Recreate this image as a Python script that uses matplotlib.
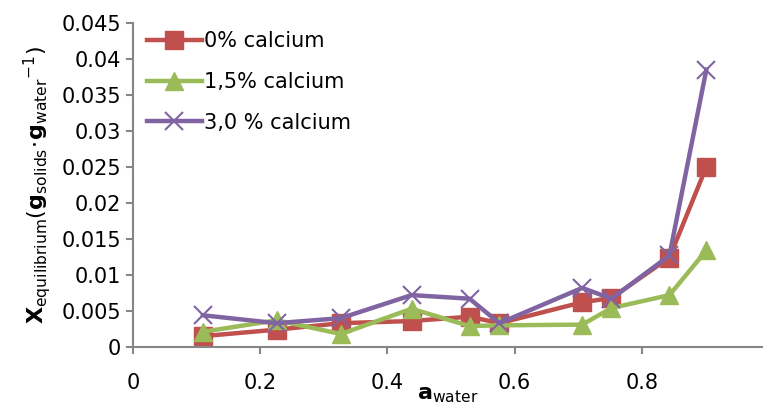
import matplotlib
matplotlib.use("Agg")
import matplotlib.pyplot as plt

plt.rcParams["font.family"] = "DejaVu Sans"
plt.rcParams["mathtext.fontset"] = "dejavusans"

a_water = [0.110, 0.226, 0.327, 0.438, 0.529, 0.576, 0.706, 0.752, 0.843, 0.901]
ca_0 = [0.0015, 0.0024, 0.0033, 0.0036, 0.0042, 0.0033, 0.0062, 0.0068, 0.0124, 0.0250]
ca_15 = [0.0021, 0.0037, 0.0018, 0.0053, 0.0029, 0.0030, 0.0031, 0.0054, 0.0072, 0.0134]
ca_30 = [0.0044, 0.0033, 0.0040, 0.0072, 0.0067, 0.0033, 0.0082, 0.0067, 0.0127, 0.0385]

labels = ["0% calcium", "1,5% calcium", "3,0 % calcium"]
colors = ["#C0504D", "#9BBB59", "#8064A2"]
markers = ["s", "^", "x"]

fig = plt.figure(figsize=(7.63, 4.16), dpi=100)
ax = fig.add_axes([0.174, 0.166, 0.826, 0.779])

for ys, lab, c, m in zip([ca_0, ca_15, ca_30], labels, colors, markers):
    ax.plot(a_water, ys, color=c, lw=3.2, marker=m, markersize=13,
            markeredgewidth=1.5 if m == "x" else 1, label=lab)

ax.set_xlim(0, 0.99)
ax.set_ylim(0, 0.045)
ax.set_xticks([0, 0.2, 0.4, 0.6, 0.8])
ax.set_xticklabels(["0", "0.2", "0.4", "0.6", "0.8"])
ax.set_yticks([i * 0.005 for i in range(10)])
ax.set_yticklabels(["0", "0.005", "0.01", "0.015", "0.02", "0.025", "0.03", "0.035", "0.04", "0.045"])

for side in ["top", "right"]:
    ax.spines[side].set_visible(False)
for side in ["left", "bottom"]:
    ax.spines[side].set_color("#868686")
    ax.spines[side].set_linewidth(1.5)
ax.tick_params(colors="#868686", labelcolor="black", labelsize=15, width=1.5, length=5)
ax.tick_params(axis="x", pad=14)

ax.set_xlabel(r"$\mathbf{a}_{\mathrm{water}}$", fontsize=16, labelpad=-6)
ax.set_ylabel(r"$\mathbf{X}_{\mathrm{equilibrium}}(\mathbf{g}_{\mathrm{solids}}\!\cdot\!\mathbf{g}_{\mathrm{water}}{}^{-1})$",
              fontsize=16, labelpad=6)

ax.legend(loc="upper left", bbox_to_anchor=(0.0, 1.02), frameon=False, fontsize=15,
          handlelength=2.6, labelspacing=1.0, handletextpad=0.1, borderaxespad=0.3)

fig.savefig("out.png", dpi=100)
